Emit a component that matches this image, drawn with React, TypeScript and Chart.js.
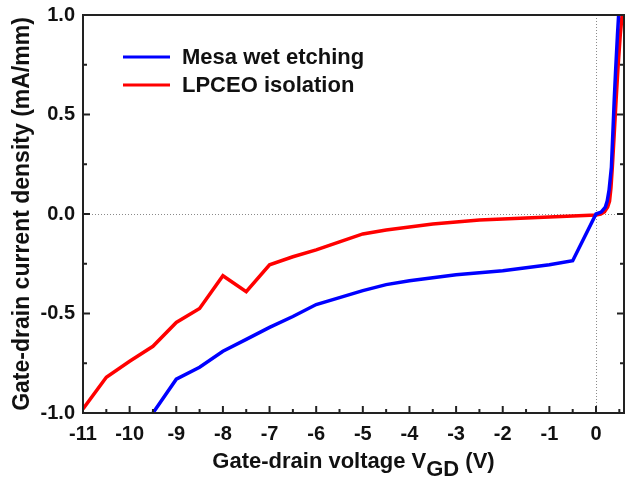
import React, { useEffect, useRef } from "react";
import { Chart, registerables } from "chart.js";

Chart.register(...registerables);

const FONT = "'Liberation Sans', Arial, sans-serif";

// Mesa wet etching (blue)
const mesaV = [-9.5, -9, -8.5, -8, -7.5, -7, -6.5, -6, -5.5, -5, -4.5, -4, -3.5, -3, -2.5, -2, -1.5, -1, -0.5, 0, 0.11, 0.2, 0.24, 0.28, 0.33, 0.36, 0.39, 0.42, 0.46, 0.485];
const mesaJ = [-1.0, -0.83, -0.77, -0.69, -0.63, -0.57, -0.515, -0.455, -0.42, -0.385, -0.355, -0.335, -0.32, -0.305, -0.295, -0.285, -0.27, -0.255, -0.235, 0.0, 0.01, 0.035, 0.065, 0.12, 0.235, 0.4, 0.57, 0.72, 0.9, 1.0];

// LPCEO isolation (red)
const lpceoV = [-11, -10.5, -10, -9.5, -9, -8.5, -8, -7.5, -7, -6.5, -6, -5.5, -5, -4.5, -4, -3.5, -3, -2.5, -2, -1.5, -1, -0.5, 0, 0.1, 0.18, 0.25, 0.29, 0.32, 0.35, 0.39, 0.43, 0.47, 0.52, 0.56];
const lpceoJ = [-0.98, -0.82, -0.74, -0.665, -0.545, -0.475, -0.31, -0.39, -0.255, -0.215, -0.18, -0.14, -0.1, -0.08, -0.065, -0.05, -0.04, -0.03, -0.025, -0.02, -0.015, -0.01, -0.005, 0.0, 0.01, 0.035, 0.065, 0.13, 0.235, 0.4, 0.57, 0.73, 0.9, 1.0];

const seriesLabels = ["Mesa wet etching", "LPCEO isolation"];
const xTicks = [-11, -10, -9, -8, -7, -6, -5, -4, -3, -2, -1, 0];
const yTicks = [-1.0, -0.5, 0.0, 0.5, 1.0];
const xTitleMain = "Gate-drain voltage V";
const xTitleSub = "GD";
const xTitleEnd = " (V)";
const yTitle = "Gate-drain current density (mA/mm)";

const decorPlugin = {
  id: "decor",
  beforeDatasetsDraw(chart: any) {
    const { ctx, chartArea: a, scales } = chart;
    const x0 = scales.x.getPixelForValue(0);
    const y0 = scales.y.getPixelForValue(0);
    ctx.save();
    ctx.strokeStyle = "#8a8a8a";
    ctx.lineWidth = 1;
    ctx.setLineDash([1, 2]);
    ctx.beginPath();
    ctx.moveTo(a.left, y0 + 0.5);
    ctx.lineTo(a.right, y0 + 0.5);
    ctx.moveTo(x0 + 0.5, a.top);
    ctx.lineTo(x0 + 0.5, a.bottom);
    ctx.stroke();
    ctx.restore();
  },
  afterDraw(chart: any) {
    const { ctx, chartArea: a, scales } = chart;
    ctx.save();
    // frame
    ctx.strokeStyle = "#222";
    ctx.lineWidth = 2;
    ctx.strokeRect(a.left, a.top, a.right - a.left, a.bottom - a.top);
    // x ticks (inward)
    ctx.lineWidth = 2;
    ctx.beginPath();
    for (let v = -11; v <= 0.5001; v += 0.5) {
      const px = scales.x.getPixelForValue(v);
      const major = Math.abs(v - Math.round(v)) < 1e-6;
      const len = major ? 7 : 4;
      ctx.moveTo(px, a.bottom);
      ctx.lineTo(px, a.bottom - len);
    }
    // y ticks (inward, both sides)
    for (let v = -1; v <= 1.0001; v += 0.25) {
      const py = scales.y.getPixelForValue(v);
      const major = Math.abs(v * 2 - Math.round(v * 2)) < 1e-6;
      const len = major ? 7 : 4;
      ctx.moveTo(a.left, py);
      ctx.lineTo(a.left + len, py);
      ctx.moveTo(a.right, py);
      ctx.lineTo(a.right - len, py);
    }
    ctx.stroke();

    // legend
    const ds = chart.data.datasets;
    const legY = [57, 85];
    ds.forEach((d: any, i: number) => {
      ctx.strokeStyle = d.borderColor;
      ctx.lineWidth = 3;
      ctx.beginPath();
      ctx.moveTo(123, legY[i]);
      ctx.lineTo(170, legY[i]);
      ctx.stroke();
      ctx.fillStyle = "#111";
      ctx.font = `bold 22px ${FONT}`;
      ctx.textBaseline = "middle";
      ctx.textAlign = "left";
      ctx.fillText(d.label, 182, legY[i] + 1);
    });

    // x title with subscript
    ctx.fillStyle = "#111";
    ctx.textBaseline = "alphabetic";
    ctx.textAlign = "left";
    ctx.font = `bold 22px ${FONT}`;
    const w1 = ctx.measureText(xTitleMain).width;
    const w2 = ctx.measureText(xTitleSub).width;
    const w3 = ctx.measureText(xTitleEnd).width;
    const total = w1 + w2 + w3;
    const cx = (a.left + a.right) / 2;
    let sx = cx - total / 2;
    const base = 468;
    ctx.fillText(xTitleMain, sx, base);
    sx += w1;
    ctx.fillText(xTitleSub, sx, base + 8);
    sx += w2;
    ctx.fillText(xTitleEnd, sx, base);
    ctx.restore();
  },
};

export default function App() {
  const ref = useRef<HTMLCanvasElement | null>(null);
  useEffect(() => {
    if (!ref.current) return;
    const chart = new Chart(ref.current, {
      type: "line",
      data: {
        datasets: [
          {
            label: seriesLabels[0],
            data: mesaV.map((v, i) => ({ x: v, y: mesaJ[i] })),
            borderColor: "#0000ff",
            backgroundColor: "#0000ff",
            borderWidth: 3.5,
            pointRadius: 0,
            tension: 0,
          },
          {
            label: seriesLabels[1],
            data: lpceoV.map((v, i) => ({ x: v, y: lpceoJ[i] })),
            borderColor: "#ff0000",
            backgroundColor: "#ff0000",
            borderWidth: 3.5,
            pointRadius: 0,
            tension: 0,
          },
        ],
      },
      options: {
        animation: false,
        responsive: true,
        maintainAspectRatio: false,
        layout: { padding: { left: 0, top: 15, right: 11, bottom: 0 } },
        plugins: { legend: { display: false }, tooltip: { enabled: false } },
        scales: {
          x: {
            type: "linear",
            min: -11,
            max: 0.6,
            afterBuildTicks: (s: any) => {
              s.ticks = xTicks.map((v) => ({ value: v }));
            },
            afterFit: (s: any) => {
              s.height = 68;
              s.paddingLeft = 0;
              s.paddingRight = 0;
            },
            grid: { display: false, drawTicks: false },
            border: { display: false },
            ticks: {
              padding: 9,
              color: "#111",
              font: { family: FONT, size: 20, weight: "bold" },
              maxRotation: 0,
              autoSkip: false,
              callback: (v: any) => String(v),
            },
          },
          y: {
            type: "linear",
            min: -1,
            max: 1,
            afterBuildTicks: (s: any) => {
              s.ticks = yTicks.map((v) => ({ value: v }));
            },
            afterFit: (s: any) => {
              s.width = 83;
              s.paddingTop = 0;
              s.paddingBottom = 0;
            },
            grid: { display: false, drawTicks: false },
            border: { display: false },
            ticks: {
              padding: 8,
              color: "#111",
              font: { family: FONT, size: 20, weight: "bold" },
              callback: (v: any) => Number(v).toFixed(1),
            },
            title: {
              display: true,
              text: yTitle,
              color: "#111",
              font: { family: FONT, size: 23, weight: "bold" },
              padding: { top: 9, bottom: 0 },
            },
          },
        },
      },
      plugins: [decorPlugin],
    });
    return () => chart.destroy();
  }, []);
  return (
    <div style={{ position: "fixed", left: 0, top: 0, width: 635, height: 481, background: "#fff" }}>
      <canvas ref={ref} />
    </div>
  );
}
